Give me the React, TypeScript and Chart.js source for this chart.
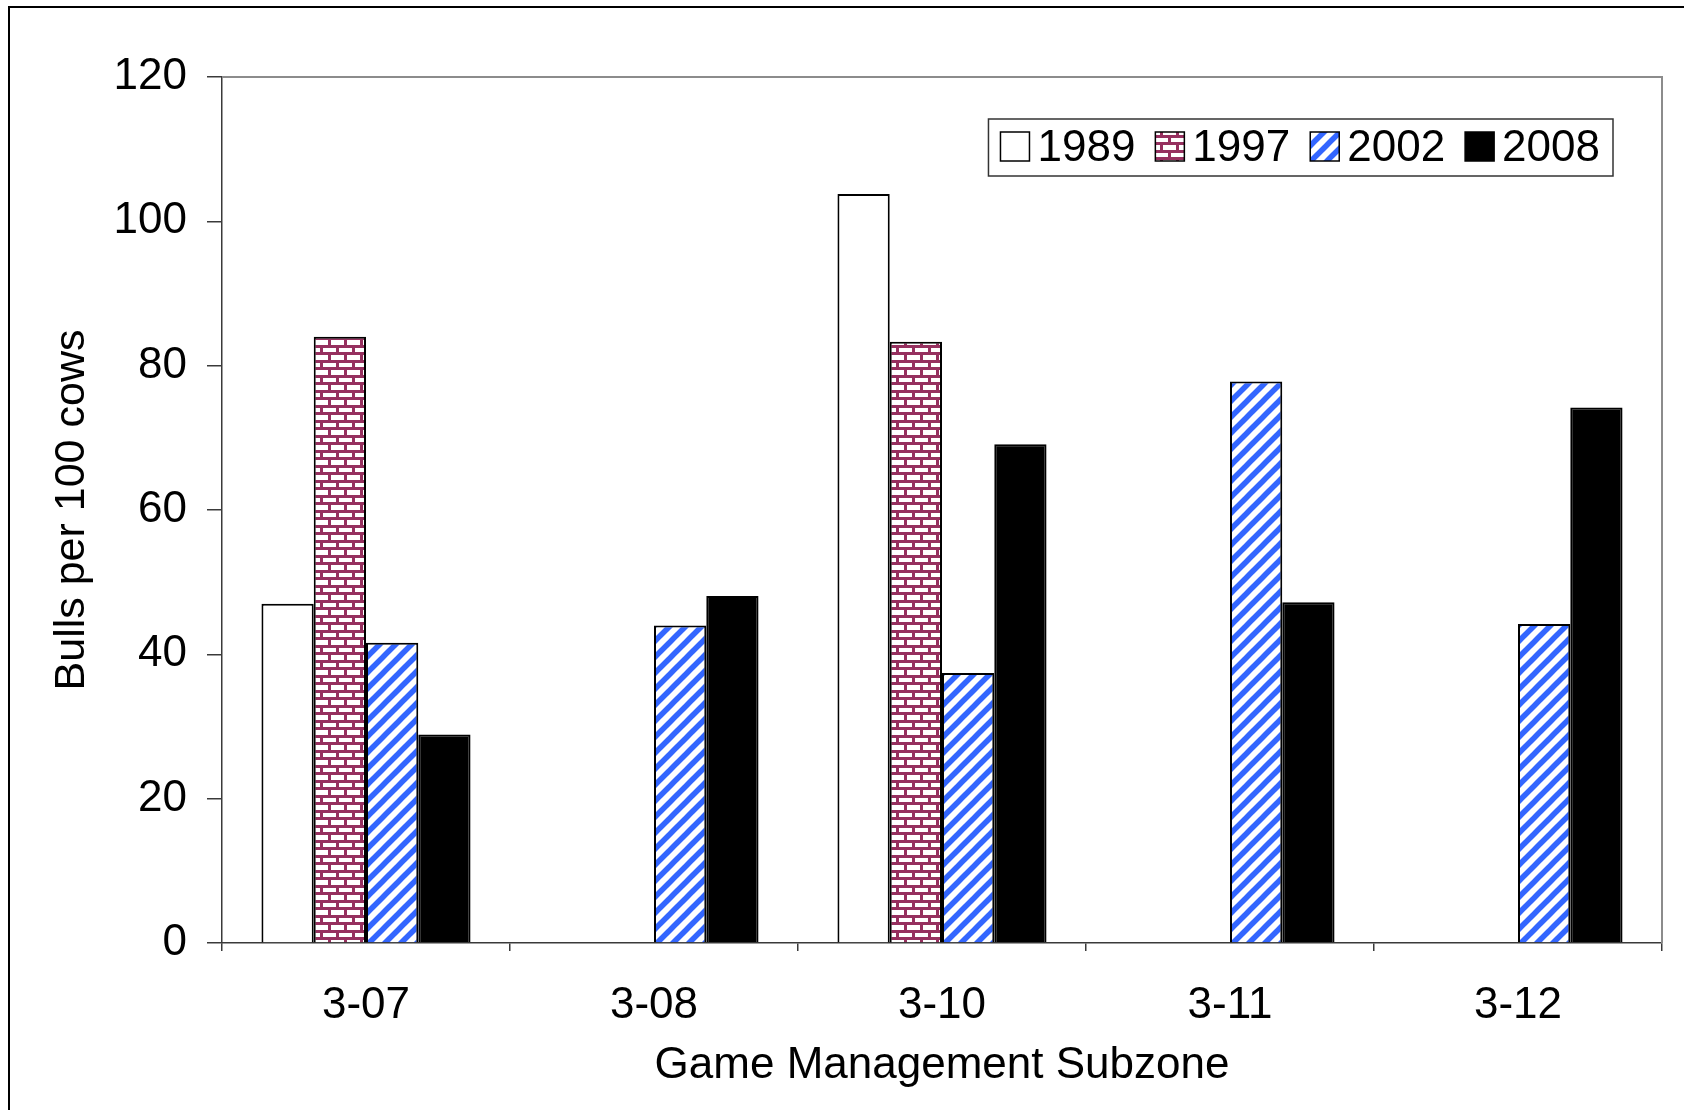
import React, { useEffect, useRef } from "react";
import { Chart, registerables } from "chart.js";

Chart.register(...registerables);

// Subzones surveyed and bull:cow ratios per survey year
const subzones = ["3-07", "3-08", "3-10", "3-11", "3-12"];
const survey1989 = [47, null, 103.8, null, null];
const survey1997 = [84, null, 83.3, null, null];
const survey2002 = [41.6, 44, 37.4, 77.8, 44.2];
const survey2008 = [28.9, 48.1, 69.1, 47.2, 74.2];
const surveyYears = ["1989", "1997", "2002", "2008"];
const yTicks = [0, 20, 40, 60, 80, 100, 120];

const FONT = "'Liberation Sans', Arial, Helvetica, sans-serif";
const AXIS = "#3a3a3a";

function brickPattern(): CanvasPattern | string {
  const c = document.createElement("canvas");
  c.width = 16;
  c.height = 15;
  const g = c.getContext("2d");
  if (!g) return "#993366";
  g.fillStyle = "#ffffff";
  g.fillRect(0, 0, 16, 15);
  g.fillStyle = "#96305f";
  // mortar rows
  g.fillRect(0, 0, 16, 3);
  g.fillRect(0, 7, 16, 3);
  // staggered joints
  g.fillRect(0, 3, 3, 4);
  g.fillRect(8, 10, 3, 5);
  return g.createPattern(c, "repeat") as CanvasPattern;
}

function stripePattern(): CanvasPattern | string {
  const c = document.createElement("canvas");
  c.width = 16;
  c.height = 16;
  const g = c.getContext("2d");
  if (!g) return "#3366ff";
  g.fillStyle = "#ffffff";
  g.fillRect(0, 0, 16, 16);
  g.strokeStyle = "#3366ff";
  g.lineWidth = 5.5;
  g.lineCap = "square";
  const seg = (x0: number, y0: number, x1: number, y1: number) => {
    g.beginPath();
    g.moveTo(x0, y0);
    g.lineTo(x1, y1);
    g.stroke();
  };
  seg(-4, 20, 20, -4);
  seg(-12, 12, 12, -12);
  seg(4, 28, 28, 4);
  return g.createPattern(c, "repeat") as CanvasPattern;
}

// White page with the chart frame's top and left edges
const framePlugin = {
  id: "frame",
  beforeDraw(chart: any) {
    const { ctx, width, height } = chart;
    ctx.save();
    ctx.fillStyle = "#ffffff";
    ctx.fillRect(0, 0, width, height);
    ctx.fillStyle = "#000000";
    ctx.fillRect(8, 6, 2, height - 6);
    ctx.fillRect(8, 6, width - 8, 2);
    ctx.restore();
  },
};

// Grey top and right edges of the plot area
const plotBorderPlugin = {
  id: "plotBorder",
  afterDatasetsDraw(chart: any) {
    const { ctx, chartArea } = chart;
    ctx.save();
    ctx.strokeStyle = "#8c8c8c";
    ctx.lineWidth = 2;
    ctx.beginPath();
    ctx.moveTo(chartArea.left, chartArea.top);
    ctx.lineTo(chartArea.right, chartArea.top);
    ctx.lineTo(chartArea.right, chartArea.bottom);
    ctx.stroke();
    ctx.restore();
  },
};

// Boxed horizontal legend in the upper right of the plot area
const boxLegendPlugin = {
  id: "boxLegend",
  afterDraw(chart: any) {
    const { ctx, chartArea } = chart;
    ctx.save();
    ctx.font = `44px ${FONT}`;
    const sw = 29;
    const gap = 8;
    const spacing = 20;
    const padL = 12;
    const padR = 13;
    const h = 57;
    const items = chart.data.datasets.map((ds: any) => ({
      label: ds.label,
      fill: ds.backgroundColor,
      w: sw + gap + ctx.measureText(ds.label).width,
    }));
    const total =
      padL + padR + items.reduce((s: number, it: any) => s + it.w, 0) + spacing * (items.length - 1);
    const right = chartArea.right - 49;
    const left = right - total;
    const top = chartArea.top + 42;
    ctx.fillStyle = "#ffffff";
    ctx.fillRect(left, top, total, h);
    ctx.strokeStyle = "#333333";
    ctx.lineWidth = 1.5;
    ctx.strokeRect(left, top, total, h);
    const cy = top + h / 2;
    let x = left + padL;
    items.forEach((it: any) => {
      ctx.fillStyle = it.fill;
      ctx.fillRect(x, cy - sw / 2 - 1, sw, sw);
      ctx.strokeStyle = "#000000";
      ctx.lineWidth = 1.5;
      ctx.strokeRect(x, cy - sw / 2 - 1, sw, sw);
      ctx.fillStyle = "#000000";
      ctx.textAlign = "left";
      ctx.textBaseline = "middle";
      ctx.fillText(it.label, x + sw + gap, cy + 1);
      x += it.w + spacing;
    });
    ctx.restore();
  },
};

export default function App() {
  const canvasRef = useRef<HTMLCanvasElement | null>(null);

  useEffect(() => {
    const canvas = canvasRef.current;
    if (!canvas) return;
    Chart.defaults.font.family = FONT;
    const fills = ["#ffffff", brickPattern(), stripePattern(), "#000000"];
    const series = [survey1989, survey1997, survey2002, survey2008];

    const chart = new Chart(canvas, {
      type: "bar",
      data: {
        labels: subzones,
        datasets: series.map((values, i) => ({
          label: surveyYears[i],
          data: values,
          backgroundColor: fills[i] as any,
          borderColor: "#000000",
          borderWidth: 2,
          categoryPercentage: 0.726,
          barPercentage: 1,
        })),
      },
      options: {
        responsive: false,
        animation: false,
        devicePixelRatio: 1,
        layout: { padding: { top: 77, right: 22, left: 0, bottom: 0 } },
        plugins: {
          legend: { display: false },
          tooltip: { enabled: false },
        },
        scales: {
          x: {
            grid: {
              offset: true,
              drawOnChartArea: false,
              tickLength: 8,
              color: AXIS,
              lineWidth: 1.5,
            },
            border: { color: AXIS, width: 1.5 },
            ticks: {
              color: "#000000",
              font: { size: 44 },
              padding: 28,
              maxRotation: 0,
              autoSkip: false,
            },
            title: {
              display: true,
              text: "Game Management Subzone",
              color: "#000000",
              font: { size: 44 },
              padding: { top: 0, bottom: 18 },
            },
            afterFit: (scale: any) => {
              scale.height = 167;
            },
          },
          y: {
            min: yTicks[0],
            max: yTicks[yTicks.length - 1],
            grid: {
              drawOnChartArea: false,
              tickLength: 15,
              color: AXIS,
              lineWidth: 1.5,
            },
            border: { color: AXIS, width: 1.5 },
            ticks: {
              stepSize: yTicks[1] - yTicks[0],
              color: "#000000",
              font: { size: 44 },
              padding: 20,
            },
            title: {
              display: true,
              text: "Bulls per 100 cows",
              color: "#000000",
              font: { size: 43 },
              padding: { top: 46, bottom: 0 },
            },
            afterFit: (scale: any) => {
              scale.width = 222;
            },
          },
        },
      },
      plugins: [framePlugin, plotBorderPlugin, boxLegendPlugin],
    });

    return () => chart.destroy();
  }, []);

  return (
    <div style={{ position: "absolute", left: 0, top: 0, width: 1684, height: 1110 }}>
      <canvas ref={canvasRef} width={1684} height={1110} style={{ display: "block" }} />
    </div>
  );
}
